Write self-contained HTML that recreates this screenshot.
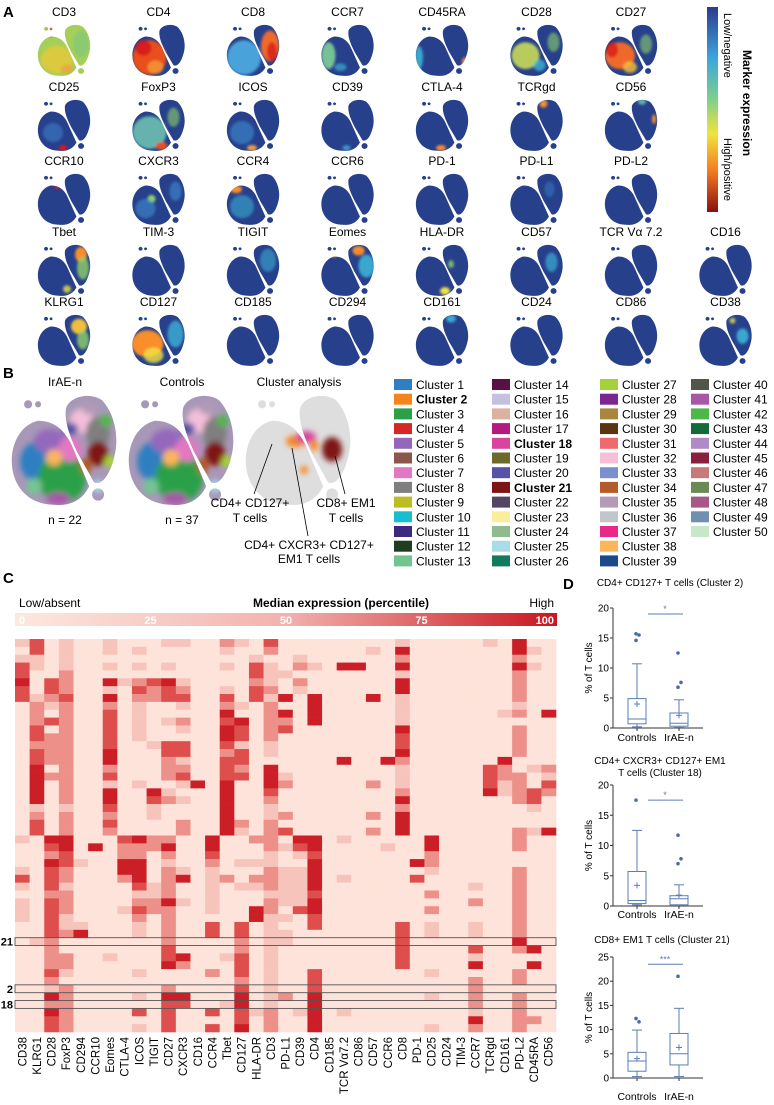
<!DOCTYPE html>
<html><head><meta charset="utf-8"><style>
body{margin:0;background:#fff}
svg{display:block;font-family:"Liberation Sans",Arial,sans-serif}
</style></head><body>
<svg id="fig" width="774" height="1105" viewBox="0 0 774 1105" xmlns="http://www.w3.org/2000/svg">
<defs>
<clipPath id="blobclip" clipPathUnits="userSpaceOnUse">
<path d="M14,14 C5,16 0,26 1,36 C2,47 10,55 22,55 C33,56 38,50 40,45 L33,30 C29,22 25,14 14,14 Z M28,8 C30,2 40,0 46,4 C52,10 55,22 52,32 C50,40 46,46 42,44 L34,30 C30,22 27,14 28,8 Z M44,47 a3,3 0 1,0 0.1,0 Z M9,4 a2,2 0 1,0 0.1,0 Z M14,4.5 a1.5,1.5 0 1,0 0.1,0 Z"/>
</clipPath>
<filter id="soft" x="-20%" y="-20%" width="140%" height="140%"><feGaussianBlur stdDeviation="1.4"/></filter>
<linearGradient id="jet" x1="0" y1="0" x2="0" y2="1">
<stop offset="0" stop-color="#2b3a8e"/><stop offset="0.25" stop-color="#3aa7dc"/><stop offset="0.45" stop-color="#7fcf8a"/><stop offset="0.62" stop-color="#f3e33a"/><stop offset="0.8" stop-color="#f57a22"/><stop offset="1" stop-color="#8a0f12"/>
</linearGradient>
<linearGradient id="redgrad" x1="0" y1="0" x2="1" y2="0">
<stop offset="0" stop-color="#fde8e0"/><stop offset="0.5" stop-color="#f2b2ae"/><stop offset="1" stop-color="#c8161e"/>
</linearGradient>
</defs>
<g id="panelA"></g>
<g id="panelB"></g>
<g id="panelC"></g>
<g id="panelD"></g>
</svg>
<script>
// ---------- Panel A data ----------
const markerRows = [
 ["CD3","CD4","CD8","CCR7","CD45RA","CD28","CD27"],
 ["CD25","FoxP3","ICOS","CD39","CTLA-4","TCRgd","CD56"],
 ["CCR10","CXCR3","CCR4","CCR6","PD-1","PD-L1","PD-L2"],
 ["Tbet","TIM-3","TIGIT","Eomes","HLA-DR","CD57","TCR Vα 7.2","CD16"],
 ["KLRG1","CD127","CD185","CD294","CD161","CD24","CD86","CD38"]
];
const markerBase = {"CD3":"#a6cf5a"};
const markerSpots = {
 "CD3":[[20,38,16,14,"#e8c83a",0.8],[44,22,8,14,"#7fc87a",0.7],[14,10,4,4,"#d7191c",1],[30,48,6,5,"#f0a040",0.7]],
 "CD4":[[18,36,17,18,"#e8501c",1],[12,26,8,8,"#d7191c",0.9],[24,46,8,7,"#f59a3a",0.8]],
 "CD8":[[18,36,17,18,"#4aa3da",1],[44,24,9,16,"#f06a2a",1],[46,30,5,10,"#d7191c",0.8]],
 "CCR7":[[8,34,7,14,"#7fcf9a",0.9],[20,46,6,4,"#3ec1e0",0.6]],
 "CD45RA":[[4,36,4,12,"#3ec1e0",0.8],[50,40,3,4,"#f98e2c",1]],
 "CD28":[[16,34,14,14,"#c8dc5a",0.9],[30,44,6,6,"#3ec1e0",0.7],[44,20,6,10,"#8fd16a",0.6]],
 "CD27":[[16,34,15,14,"#ef6a2a",1],[8,28,6,8,"#d7191c",0.8],[26,46,7,6,"#f9c23a",0.8],[42,22,6,10,"#8fd16a",0.6]],
 "CD25":[[26,52,4,3,"#d7191c",1],[16,36,10,10,"#3a7fc8",0.6]],
 "FoxP3":[[18,36,17,17,"#6cc0b0",0.9],[30,50,6,4,"#e8501c",1],[42,20,6,10,"#8fd16a",0.6]],
 "ICOS":[[16,36,12,12,"#3a8fd0",0.6],[26,52,5,3,"#f0a040",1]],
 "CD39":[[26,52,4,3,"#4aa3da",0.8]],
 "CTLA-4":[[26,52,5,3,"#f98e2c",1]],
 "TCRgd":[[34,6,4,4,"#f98e2c",1]],
 "CD56":[[38,4,4,3,"#6cc0b0",0.9],[50,22,2,5,"#f98e2c",1]],
 "CCR10":[[20,16,3,2,"#d7191c",0.8]],
 "CXCR3":[[20,28,4,4,"#8fd16a",1],[14,38,10,10,"#3a8fd0",0.6],[44,20,6,10,"#3a8fd0",0.6]],
 "CCR4":[[10,18,6,4,"#f98e2c",1],[16,36,12,12,"#3ec1e0",0.5]],
 "PD-L1":[[40,18,5,8,"#3a7fc8",0.5]],
 "Tbet":[[44,12,6,8,"#f98e2c",1],[46,26,6,12,"#8fd16a",0.8],[30,48,4,4,"#f0e442",0.8]],
 "TIGIT":[[42,18,8,12,"#3ec1e0",0.5]],
 "Eomes":[[38,8,6,5,"#f98e2c",1],[46,24,8,12,"#3ec1e0",0.8],[14,12,3,3,"#f98e2c",0.8]],
 "HLA-DR":[[30,50,5,4,"#f0e442",1],[36,22,3,4,"#8fd16a",0.8]],
 "CD57":[[42,20,6,10,"#3ec1e0",0.6]],
 "KLRG1":[[42,14,8,8,"#f0c03a",1],[46,28,6,10,"#8fd16a",0.8]],
 "CD127":[[16,32,16,14,"#f98e2c",1],[22,44,10,8,"#f0e442",0.8],[44,22,8,14,"#3ec1e0",0.7]],
 "CD161":[[36,6,5,4,"#3ec1e0",0.8]],
 "CD38":[[44,24,6,8,"#3ec1e0",0.8],[34,8,3,3,"#f0e442",0.8]]
};
// ---------- Panel B data ----------
const clusterColors = ["#2f7fc1","#f5841f","#2ca048","#d62728","#9467bd","#8c564b","#e377c2","#7f7f7f","#bcbd22","#17becf","#3c2a80","#1f3d1f","#74c493",
"#5a0f45","#c5c0e2","#dbb1a0","#b5197e","#d9459c","#6b6a2a","#5552a8","#7f1416","#544563","#f9ef9a","#8fbc8f","#a8dde8","#127a5e",
"#a6d13a","#7a2590","#a8863e","#5a3512","#f0696e","#f4bfd9","#7b8fcf","#b55a2a","#b39ab5","#c0c6cc","#e8298a","#fdb55a","#1a4a8c",
"#50574a","#a857a8","#4db848","#136b3a","#b08ac8","#8a2040","#c87a78","#6a8a55","#a85888","#7090b0","#c8e6c8"];
const boldClusters = [2,18,21];
// ---------- Panel C data ----------
const heatMarkers = ["CD38","KLRG1","CD28","FoxP3","CD294","CCR10","Eomes","CTLA-4","ICOS","TIGIT","CD27","CXCR3","CD16","CCR4","Tbet","CD127","HLA-DR","CD3","PD-L1","CD39","CD4","CD185","TCR Vα7.2","CD86","CD57","CCR6","CD8","PD-1","CD25","CD24","TIM-3","CCR7","TCRgd","CD161","PD-L2","CD45RA","CD56"];
const heatValues = [
"1301001000 1100210300 0000001000 0010400",
"0301001010 0000100200 0000104000 0000410",
"1101000000 0000001001 0000002000 0000200",
"3101001010 1000103102 1044004000 0000410",
"3002000000 0000003110 0000001000 0000200",
"4032004123 4100002102 0000004000 0000200",
"3032001032 3200103201 0000004000 0000200",
"3123004022 3300303140 4000401000 0000200",
"0212002010 0100210200 4000001000 0000100",
"0202003010 0000400240 4000001000 0001204",
"0232003010 1200340220 4000001000 0000000",
"0302003010 0100430230 0000004000 0000200",
"0322003010 0000430200 0000003000 0000200",
"0222003001 3300310100 0000003000 0000200",
"0322004000 3300230100 0000004000 0000200",
"0322004000 2100330000 0040042000 0004000",
"0402002000 2200320400 0000001000 0032012",
"0422003000 2300330410 0000001000 0032201",
"0402001010 0140400420 0000201000 0031203",
"0402004004 1000400300 0000002000 0041232",
"0402004003 2100400200 0000004000 0000230",
"0101003001 0000400100 0000002000 0000010",
"0202002001 0000400120 0000204000 0000000",
"0302003000 0200420200 0000004000 0000000",
"0302002000 0200410230 0000204000 0000214",
"1044000342 2004002204 4010000040 0000200",
"0034040222 4004000213 4000010040 0000200",
"0023000220 2003000101 3000000020 0000000",
"0043100440 1002011100 4000000420 0000000",
"1032000440 2101000211 4000000010 0000200",
"3032000240 2401202211 4010000300 0000200",
"1031000031 2001011211 4000000000 0100200",
"0022000011 2001000111 3000000020 0000200",
"1032000022 4101000211 4000000000 0200200",
"1032000132 2001004203 4000000020 0000200",
"1031000020 2000004110 3000000000 0000200",
"0031100010 2003030100 3000003010 0100200",
"0032400010 2003030110 0000003010 0100200",
"0120000000 2000020110 0000003000 0000400",
"0020000000 3000020100 0000003000 0300240",
"0022001000 3400130100 0000003000 0100000",
"0022000000 4200030100 0000003000 0400040",
"0031000010 0002030100 3000000010 0000200",
"0020000000 0000020100 3000000000 0200200",
"0012000000 2000030100 3000000000 0200000",
"0042000010 4400040120 4000000010 0200200",
"0022000000 3300140100 4000000000 0200200",
"0042000030 3003031201 4010000000 0100200",
"0032000000 3000030200 4000000000 0400220",
"0032000010 3003040200 4000000010 0200200"
];
const highlightRows = [[38,"21"],[44,"2"],[46,"18"]];
const heatTicks = ["0","25","50","75","100"];
// ---------- Panel D data ----------
const boxTitles = [["CD4+ CD127+ T cells (Cluster 2)"],["CD4+ CXCR3+ CD127+ EM1","T cells (Cluster 18)"],["CD8+ EM1 T cells (Cluster 21)"]];
const boxGroups = ["Controls","IrAE-n"];
const boxYMax = [20,20,25];
const boxYTicks = [[0,5,10,15,20],[0,5,10,15,20],[0,5,10,15,20,25]];
// [low, q1, median, q3, high]
const ctrlStats = [[0.2,0.7,1.5,4.9,10.7],[0.2,0.4,0.9,5.7,12.5],[0.3,1.4,3.5,5.3,9.9]];
const irStats = [[0.1,0.3,0.8,2.5,4.7],[0.1,0.2,1.2,1.7,3.5],[0.3,2.7,5.0,9.2,14.4]];
const ctrlMeans = [4.0,3.4,4.0];
const irMeans = [2.1,1.8,6.3];
const ctrlOutliers = [[15.7,15.5,14.6],[17.5],[12.3,11.6]];
const irOutliers = [[12.5,7.6,6.8],[11.7,7.8,7.0],[21.0]];
const sigLevel = [19,17.5,23.5];
const sigText = ["*","*","***"];

const NS="http://www.w3.org/2000/svg";
function mk(parent,tag,attrs,text){const e=document.createElementNS(NS,tag);for(const k in attrs)e.setAttribute(k,attrs[k]);if(text!==undefined)e.textContent=text;parent.appendChild(e);return e;}

// ================= Panel A =================
const A=document.getElementById("panelA");
const aLab=mk(A,"text",{x:3,y:17,"font-size":15,"font-weight":"bold"},"A");


const rowTitleY=[16,91,165,236,306];
markerRows.forEach((row,ri)=>{
  row.forEach((m,ci)=>{
    const cx=64+94.5*ci;
    const g=mk(A,"g",{});
    
    
    mk(g,"text",{x:cx,y:rowTitleY[ri],"text-anchor":"middle","font-size":12},m);
    const b=mk(g,"g",{transform:`translate(${cx-27},${rowTitleY[ri]+7}) scale(1,0.96)`});
    const cl=mk(b,"g",{"clip-path":"url(#blobclip)"});
    mk(cl,"rect",{x:0,y:0,width:56,height:58,fill:markerBase[m]||"#27408b"});
    const sg=mk(cl,"g",{filter:"url(#soft)"});
    (markerSpots[m]||[]).forEach(s=>mk(sg,"ellipse",{cx:s[0],cy:s[1],rx:s[2],ry:s[3],fill:s[4],opacity:s[5]}));
    mk(b,"path",{d:"M27,16 L40,46",stroke:"#fff","stroke-width":1.4,fill:"none"});
  });
});
// colorbar
const cb=mk(A,"g",{});


mk(cb,"rect",{x:707,y:7,width:11,height:205,fill:"url(#jet)"});
mk(cb,"text",{transform:"translate(724,13) rotate(90)","font-size":11},"Low/negative");
mk(cb,"text",{transform:"translate(724,138) rotate(90)","font-size":11},"High/positive");
mk(cb,"text",{transform:"translate(743,50) rotate(90)","font-size":12,"font-weight":"bold"},"Marker expression");

// ================= Panel B =================
const B=document.getElementById("panelB");
const bLab=mk(B,"text",{x:3,y:378,"font-size":15,"font-weight":"bold"},"B");


const multiSpots=[[14,34,9,10,"#2f7fc1"],[26,42,12,12,"#2ca048"],[20,24,8,6,"#9467bd"],[30,28,6,6,"#e377c2"],[22,32,4,4,"#fdb55a"],[36,14,6,6,"#f4bfd9"],[44,20,6,8,"#7f7f7f"],[44,30,5,6,"#7f1416"],[38,36,3,4,"#b55a2a"],[50,34,3,3,"#a6d13a"],[44,46,3,3,"#a8dde8"],[24,52,6,3,"#a857a8"],[40,8,4,3,"#b39ab5"],[30,18,4,3,"#5552a8"],[12,46,4,4,"#74c493"],[48,14,3,3,"#4db848"]];
const clusterSpots=[[26,24,5,3,"#f5841f"],[31,22,5,3,"#d9459c"],[44,28,5,6,"#7f1416"],[35,26,2,3,"#f5841f"],[30,38,2,2,"#f5841f"]];
const bPanels=[["IrAE-n",10,"n = 22"],["Controls",127,"n = 37"],["Cluster analysis",244,null]];
bPanels.forEach((p,i)=>{
  const g=mk(B,"g",{});
  
  
  mk(g,"text",{x:p[1]+55,y:386,"text-anchor":"middle","font-size":12},p[0]);
  const b=mk(g,"g",{transform:`translate(${p[1]},392) scale(2.0,2.05)`});
  const cl=mk(b,"g",{"clip-path":"url(#blobclip)"});
  mk(cl,"rect",{x:0,y:0,width:56,height:58,fill:i<2?"#a898b8":"#dedede"});
  const sg=mk(cl,"g",{filter:"url(#soft)"});
  (i<2?multiSpots:clusterSpots).forEach(s=>mk(sg,"ellipse",{cx:s[0],cy:s[1],rx:s[2],ry:s[3],fill:s[4]}));
  mk(b,"path",{d:"M27,16 L40,46",stroke:"#fff","stroke-width":0.8,fill:"none"});
  if(p[2]) mk(g,"text",{x:p[1]+55,y:524,"text-anchor":"middle","font-size":12},p[2]);
});
const ann=mk(B,"g",{"font-size":12,"text-anchor":"middle"});


mk(ann,"text",{x:250,y:507},"CD4+ CD127+");
mk(ann,"text",{x:250,y:522},"T cells");
mk(ann,"text",{x:346,y:507},"CD8+ EM1");
mk(ann,"text",{x:346,y:522},"T cells");
mk(ann,"text",{x:309,y:549},"CD4+ CXCR3+ CD127+");
mk(ann,"text",{x:309,y:563},"EM1 T cells");
mk(ann,"line",{x1:254,y1:494,x2:272,y2:444,stroke:"#000","stroke-width":0.8});
mk(ann,"line",{x1:308,y1:536,x2:292,y2:448,stroke:"#000","stroke-width":0.8});
mk(ann,"line",{x1:345,y1:494,x2:335,y2:456,stroke:"#000","stroke-width":0.8});
const legX=[394,492,600,691];
clusterColors.forEach((c,i)=>{
  const col=Math.floor(i/13), r=i%13;
  const y=379+14.7*r;
  const g=mk(B,"g",{});
  
  
  mk(g,"rect",{x:legX[col],y:y,width:18,height:11,fill:c});
  mk(g,"text",{x:legX[col]+22,y:y+10,"font-size":12,"font-weight":boldClusters.includes(i+1)?"bold":"normal"},"Cluster "+(i+1));
});

// ================= Panel C =================
const C=document.getElementById("panelC");
const cLab=mk(C,"text",{x:3,y:583,"font-size":15,"font-weight":"bold"},"C");


const hx0=15,hx1=556,hy0=639,hy1=1032;
const cw=(hx1-hx0)/heatMarkers.length, ch=(hy1-hy0)/heatValues.length;
const levelColors=["#fde3d9","#f7c4bb","#ec9089","#dd4e4c","#cb1e26"];
const hcb=mk(C,"g",{});


mk(hcb,"text",{x:19,y:607,"font-size":12},"Low/absent");
mk(hcb,"text",{x:253,y:607,"font-size":12,"font-weight":"bold"},"Median expression (percentile)");
mk(hcb,"text",{x:554,y:607,"font-size":12,"text-anchor":"end"},"High");
mk(hcb,"rect",{x:15,y:613,width:542,height:13,fill:"url(#redgrad)"});
heatTicks.forEach((t,i)=>{
  const x=15+542*(+t)/100;
  mk(hcb,"text",{x:i===0?x+4:(i===4?x-3:x),y:624,"font-size":11,"font-weight":"bold",fill:"#fff","text-anchor":i===0?"start":(i===4?"end":"middle")},t);
});
const cells=mk(C,"g",{});


heatValues.forEach((rowStr,r)=>{
  const vals=rowStr.replace(/ /g,"");
  for(let c=0;c<heatMarkers.length;c++){
    const v=+vals[c]||0;
    const rc=mk(cells,"rect",{x:(hx0+c*cw).toFixed(2),y:(hy0+r*ch).toFixed(2),width:(cw+0.3).toFixed(2),height:(ch+0.3).toFixed(2),fill:levelColors[v]});
    
    
  }
});
highlightRows.forEach(h=>{
  const y=hy0+h[0]*ch;
  const rr=mk(C,"rect",{x:hx0,y:y,width:hx1-hx0,height:ch,fill:"none",stroke:"#555","stroke-width":0.9});
  
  
  const tl=mk(C,"text",{x:13,y:y+ch/2+4,"font-size":11,"font-weight":"bold","text-anchor":"end"},h[1]);
  
  
});
heatMarkers.forEach((m,c)=>{
  const x=hx0+(c+0.5)*cw+4;
  const t=mk(C,"text",{transform:`translate(${x.toFixed(1)},1037) rotate(-90)`,"font-size":11.5,"text-anchor":"end"},m);
  
  
});

// ================= Panel D =================
const D=document.getElementById("panelD");
const dLab=mk(D,"text",{x:563,y:589,"font-size":15,"font-weight":"bold"},"D");


const plotGeo=[{top:608,bot:728,title:[586],xl:741},{top:785,bot:906,title:[764,776],xl:918},{top:957,bot:1078,title:[943],xl:1100}];
const titleCx=[670,660,662];
const BC="#5b7db8";
plotGeo.forEach((g,i)=>{
  const pg=mk(D,"g",{});
  
  
  const ys=v=>g.bot-(g.bot-g.top)*v/boxYMax[i];
  boxTitles[i].forEach((t,k)=>mk(pg,"text",{x:titleCx[i],y:g.title[k],"font-size":10,"text-anchor":"middle"},t));
  mk(pg,"line",{x1:613,y1:g.top,x2:613,y2:g.bot,stroke:"#333","stroke-width":1});
  mk(pg,"line",{x1:613,y1:g.bot,x2:703,y2:g.bot,stroke:"#333","stroke-width":1});
  boxYTicks[i].forEach(t=>{
    mk(pg,"line",{x1:610,y1:ys(t),x2:613,y2:ys(t),stroke:"#333","stroke-width":1});
    mk(pg,"text",{x:609,y:ys(t)+3.5,"font-size":10,"text-anchor":"end"},String(t));
  });
  mk(pg,"text",{transform:`translate(592,${(g.top+g.bot)/2}) rotate(-90)`,"font-size":10,"text-anchor":"middle"},"% of T cells");
  const centers=[637,679];
  const stats=[ctrlStats[i],irStats[i]], means=[ctrlMeans[i],irMeans[i]], outs=[ctrlOutliers[i],irOutliers[i]];
  centers.forEach((cx,k)=>{
    const s=stats[k];
    mk(pg,"line",{x1:cx,y1:g.bot,x2:cx,y2:g.bot+3,stroke:"#333"});
    mk(pg,"text",{x:cx,y:g.xl,"font-size":10.5,"text-anchor":"middle"},boxGroups[k]);
    mk(pg,"line",{x1:cx,y1:ys(s[0]),x2:cx,y2:ys(s[1]),stroke:BC,"stroke-width":1});
    mk(pg,"line",{x1:cx,y1:ys(s[3]),x2:cx,y2:ys(s[4]),stroke:BC,"stroke-width":1});
    mk(pg,"line",{x1:cx-5,y1:ys(s[4]),x2:cx+5,y2:ys(s[4]),stroke:BC,"stroke-width":1});
    mk(pg,"line",{x1:cx-5,y1:ys(s[0]),x2:cx+5,y2:ys(s[0]),stroke:BC,"stroke-width":1});
    mk(pg,"rect",{x:cx-9,y:ys(s[3]),width:18,height:ys(s[1])-ys(s[3]),fill:"none",stroke:BC,"stroke-width":1});
    mk(pg,"line",{x1:cx-9,y1:ys(s[2]),x2:cx+9,y2:ys(s[2]),stroke:BC,"stroke-width":1});
    const my=ys(means[k]);
    mk(pg,"path",{d:`M${cx-3},${my}H${cx+3}M${cx},${my-3}V${my+3}`,stroke:BC,"stroke-width":1});
    outs[k].forEach((o,j)=>mk(pg,"circle",{cx:cx+(j%2?2:-1),cy:ys(o),r:1.8,fill:"#4a6aa8"}));
  });
  const sy=ys(sigLevel[i]);
  mk(pg,"line",{x1:648,y1:sy,x2:683,y2:sy,stroke:BC,"stroke-width":1});
  mk(pg,"text",{x:665,y:sy-2,"font-size":9,"text-anchor":"middle",fill:BC},sigText[i]);
});
</script>
</body></html>
